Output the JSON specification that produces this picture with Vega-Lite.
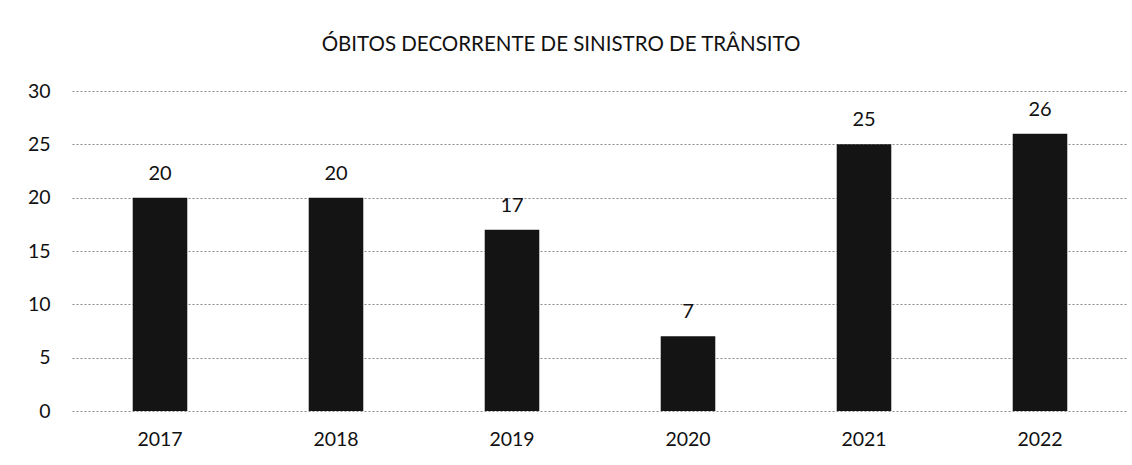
{
  "$schema": "https://vega.github.io/schema/vega-lite/v6.json",
  "autosize": {"type": "none"},
  "width": 1056,
  "height": 320,
  "padding": {"left": 72, "top": 91, "right": 4, "bottom": 54},
  "background": "white",
  "title": {
    "text": "ÓBITOS DECORRENTE DE SINISTRO DE TRÂNSITO",
    "font": "Lato",
    "fontSize": 20.5,
    "fontWeight": "normal",
    "color": "#111111",
    "anchor": "middle",
    "dx": -39,
    "offset": 26
  },
  "data": {
    "values": [
      {"ano": "2017", "obitos": 20},
      {"ano": "2018", "obitos": 20},
      {"ano": "2019", "obitos": 17},
      {"ano": "2020", "obitos": 7},
      {"ano": "2021", "obitos": 25},
      {"ano": "2022", "obitos": 26}
    ]
  },
  "config": {
    "view": {"stroke": null},
    "axis": {"labelFont": "Lato", "labelFontSize": 19.5, "labelColor": "#111111"}
  },
  "encoding": {
    "x": {
      "field": "ano",
      "type": "nominal",
      "sort": null,
      "scale": {"paddingInner": 0.69, "paddingOuter": 0.345},
      "axis": {"title": null, "labelAngle": 0, "domain": false, "ticks": false, "labelPadding": 19}
    },
    "y": {
      "field": "obitos",
      "type": "quantitative",
      "scale": {"domain": [0, 30]},
      "axis": {
        "title": null,
        "values": [0, 5, 10, 15, 20, 25, 30],
        "domain": false,
        "ticks": false,
        "labelPadding": 22,
        "grid": true,
        "gridColor": "#8a8a8a",
        "gridDash": [2, 2],
        "gridWidth": 1
      }
    }
  },
  "layer": [
    {"mark": {"type": "bar", "color": "#141414"}},
    {
      "mark": {"type": "text", "baseline": "bottom", "dy": -14, "font": "Lato", "fontSize": 20, "color": "#111111"},
      "encoding": {"text": {"field": "obitos", "type": "quantitative"}}
    }
  ]
}
